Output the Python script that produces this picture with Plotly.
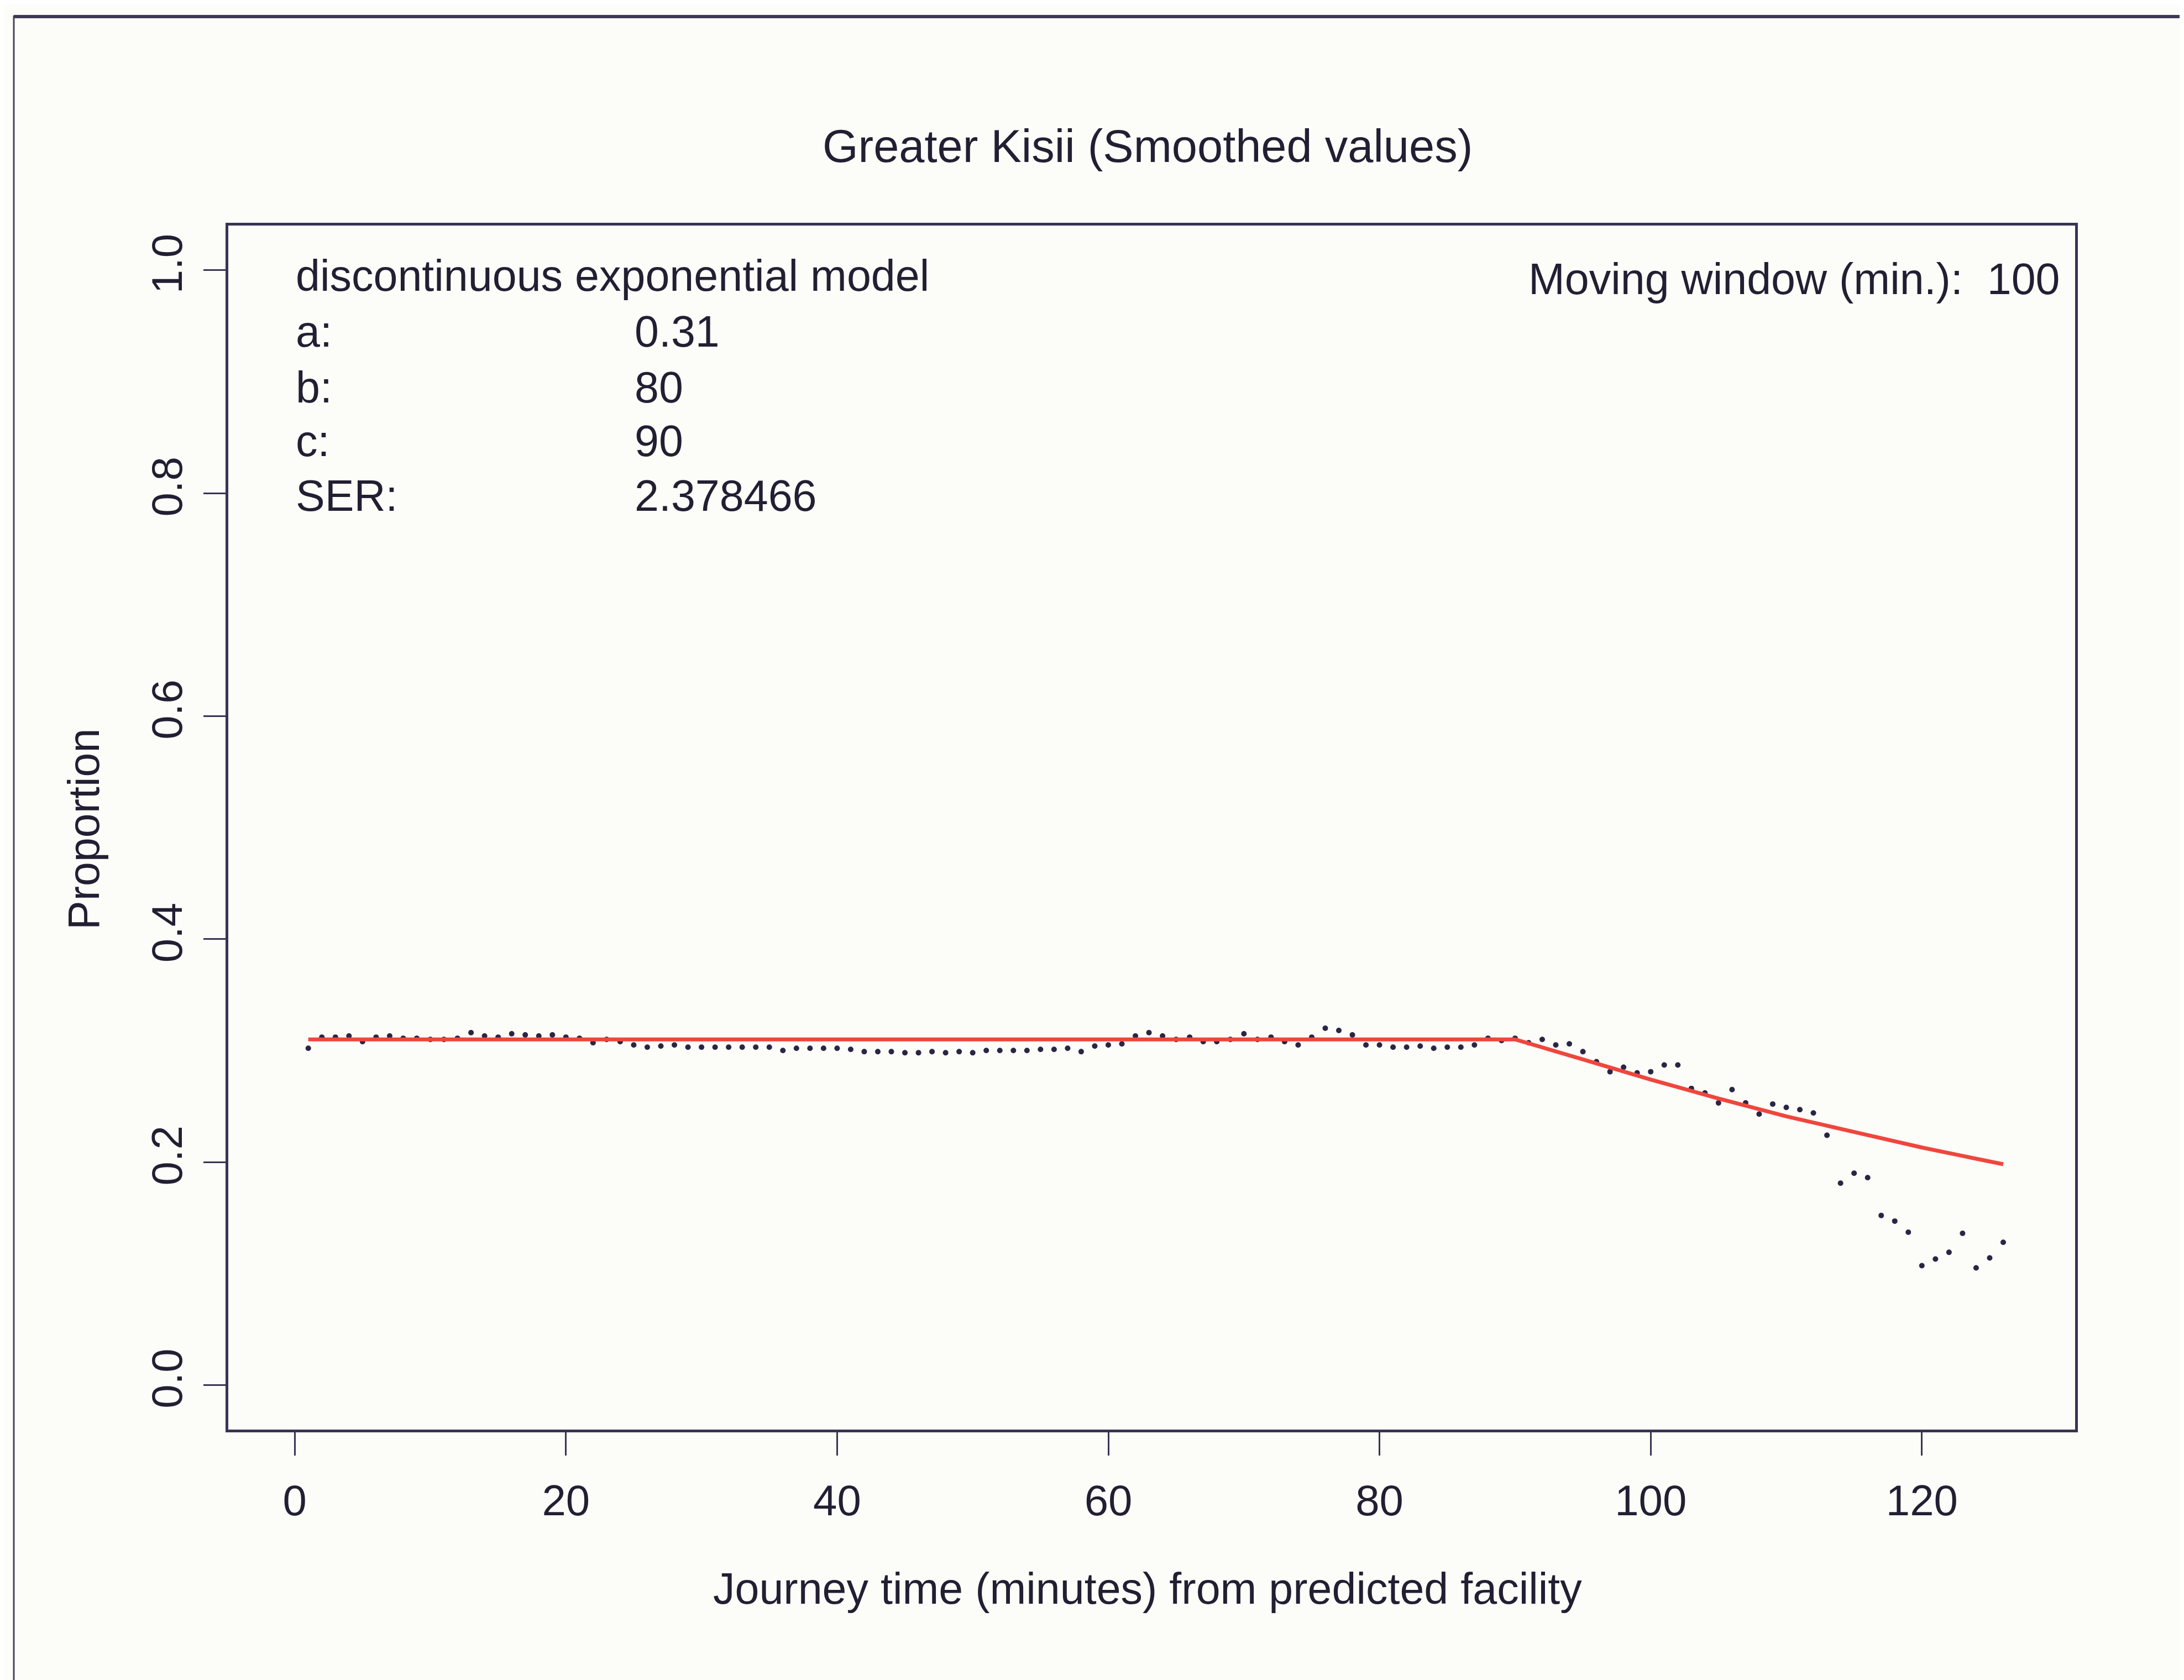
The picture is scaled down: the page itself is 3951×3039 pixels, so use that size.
import plotly.graph_objects as go

# ---- data ----
journey_time = list(range(1, 127))
proportion = [
    0.302, 0.312, 0.312, 0.313, 0.308, 0.312, 0.313, 0.311, 0.311, 0.310,
    0.310, 0.311, 0.316, 0.313, 0.312, 0.315, 0.314, 0.313, 0.314, 0.312,
    0.311, 0.307, 0.310, 0.308, 0.305, 0.303, 0.304, 0.305, 0.303, 0.303,
    0.303, 0.303, 0.303, 0.303, 0.303, 0.300, 0.302, 0.302, 0.302, 0.302,
    0.301, 0.299, 0.299, 0.299, 0.298, 0.298, 0.299, 0.298, 0.299, 0.298,
    0.300, 0.300, 0.300, 0.300, 0.301, 0.301, 0.302, 0.299, 0.304, 0.305,
    0.306, 0.313, 0.316, 0.313, 0.310, 0.312, 0.308, 0.308, 0.310, 0.315,
    0.310, 0.312, 0.308, 0.305, 0.312, 0.320, 0.318, 0.314, 0.305, 0.305,
    0.303, 0.303, 0.304, 0.302, 0.303, 0.303, 0.305, 0.311, 0.309, 0.311,
    0.307, 0.310, 0.305, 0.306, 0.299, 0.290, 0.281, 0.285, 0.280, 0.281,
    0.287, 0.287, 0.266, 0.262, 0.253, 0.265, 0.253, 0.243, 0.252, 0.249,
    0.247, 0.244, 0.224, 0.181, 0.190, 0.186, 0.152, 0.147, 0.137, 0.107,
    0.113, 0.119, 0.136, 0.105, 0.114, 0.128,
]

fit_x = [1, 90, 95, 100, 105, 110, 115, 120, 126]
fit_y = [0.310, 0.310, 0.292, 0.274, 0.257, 0.241, 0.227, 0.213, 0.198]

x_ticks = [0, 20, 40, 60, 80, 100, 120]
y_ticks = [0.0, 0.2, 0.4, 0.6, 0.8, 1.0]

title_text = "Greater Kisii (Smoothed values)"
x_title = "Journey time (minutes) from predicted facility"
y_title = "Proportion"
model_labels = ["a:", "b:", "c:", "SER:"]
model_values = ["0.31", "80", "90", "2.378466"]
model_header = "discontinuous exponential model"
window_text = "Moving window (min.):  100"

# ---- layout constants (screen pixels; page body adds an 8px offset) ----
OFF = 8
W, H = 3951, 3039
PL, PR, PT, PB = 413 - OFF, 3754 - OFF, 408 - OFF, 2586 - OFF
FONT = "Liberation Sans, Arial, sans-serif"
INK = "#221f33"
BG = "#fcfcf8"


def px_x(p):
    return (p - OFF - PL) / (PR - PL)


def px_y(p):
    return (PB - (p - OFF)) / (PB - PT)


fig = go.Figure()
fig.add_trace(go.Scatter(
    x=journey_time, y=proportion, mode="markers",
    marker=dict(size=10, color="#2b2545", line=dict(width=0)),
    showlegend=False, hoverinfo="x+y",
))
fig.add_trace(go.Scatter(
    x=fit_x, y=fit_y, mode="lines",
    line=dict(color="#ef463e", width=7),
    showlegend=False,
))

annotations = []
annotations.append(dict(text=title_text, x=px_x(2076), y=px_y(265), xref="paper", yref="paper",
                        showarrow=False, xanchor="center", yanchor="middle",
                        font=dict(size=83, color=INK, family=FONT)))
annotations.append(dict(text=x_title, x=px_x(2076), y=px_y(2873), xref="paper", yref="paper",
                        showarrow=False, xanchor="center", yanchor="middle",
                        font=dict(size=79, color=INK, family=FONT)))
annotations.append(dict(text=y_title, x=px_x(151), y=px_y(1500), xref="paper", yref="paper",
                        showarrow=False, xanchor="center", yanchor="middle", textangle=-90,
                        font=dict(size=79, color=INK, family=FONT)))
annotations.append(dict(text=model_header, x=0, y=0.995, xref="x", yref="y",
                        showarrow=False, xanchor="left", yanchor="middle",
                        font=dict(size=79, color=INK, family=FONT)))
row_y = [0.945, 0.895, 0.847, 0.798]
for lab, val, yy in zip(model_labels, model_values, row_y):
    annotations.append(dict(text=lab, x=0, y=yy, xref="x", yref="y",
                            showarrow=False, xanchor="left", yanchor="middle",
                            font=dict(size=79, color=INK, family=FONT)))
    annotations.append(dict(text=val, x=25, y=yy, xref="x", yref="y",
                            showarrow=False, xanchor="left", yanchor="middle",
                            font=dict(size=79, color=INK, family=FONT)))
annotations.append(dict(text=window_text, x=130.3, y=0.992, xref="x", yref="y",
                        showarrow=False, xanchor="right", yanchor="middle",
                        font=dict(size=79, color=INK, family=FONT)))

shapes = [
    # outer scan border (left and top)
    dict(type="line", xref="paper", yref="paper",
         x0=px_x(25), x1=px_x(25), y0=px_y(28), y1=px_y(3080),
         line=dict(color="#4a4460", width=3)),
    dict(type="line", xref="paper", yref="paper",
         x0=px_x(25), x1=px_x(3990), y0=px_y(30), y1=px_y(30),
         line=dict(color="#3e3856", width=6)),
]

fig.update_layout(
    width=W, height=H,
    margin=dict(l=PL, r=W - PR, t=PT, b=H - PB, pad=0),
    paper_bgcolor=BG, plot_bgcolor=BG,
    font=dict(family=FONT, color=INK, size=78),
    annotations=annotations, shapes=shapes,
    showlegend=False,
)
fig.update_xaxes(
    range=[-4.9, 131.3], tickvals=x_ticks, ticktext=[str(v) for v in x_ticks],
    showgrid=False, zeroline=False, showline=True, mirror=True,
    linecolor="#3a3452", linewidth=5,
    ticks="outside", ticklen=42, tickwidth=3, tickcolor="#3a3452",
    tickfont=dict(size=78, color=INK, family=FONT), ticklabelstandoff=14,
)
fig.update_yaxes(
    range=[-0.04, 1.04], tickvals=y_ticks, ticktext=[f"{v:.1f}" for v in y_ticks],
    showgrid=False, zeroline=False, showline=True, mirror=True,
    linecolor="#3a3452", linewidth=5,
    ticks="outside", ticklen=40, tickwidth=3, tickcolor="#3a3452",
    tickangle=-90,
    tickfont=dict(size=78, color=INK, family=FONT), ticklabelstandoff=8,
)

fig.write_html("out.html")
